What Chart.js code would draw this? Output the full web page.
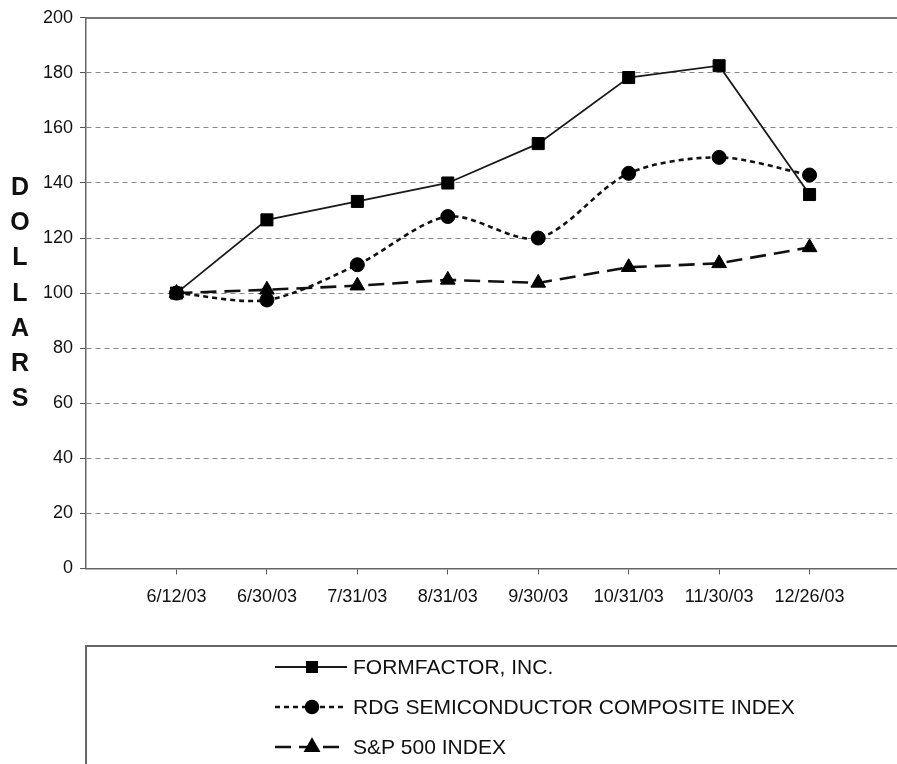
<!DOCTYPE html>
<html>
<head>
<meta charset="utf-8">
<script src="https://cdn.jsdelivr.net/npm/chart.js@4/dist/chart.umd.min.js"></script>
<style>
  html, body { margin: 0; padding: 0; overflow: hidden; background: #fff; }
  #wrap { position: absolute; left: 0; top: 0; width: 912px; height: 764px; }
  #ytitle { position: absolute; left: 8px; top: 169px; width: 24px; text-align: center;
            font: bold 25px "Liberation Sans", Arial, sans-serif; line-height: 35.2px; color: #111; }
</style>
</head>
<body>
<div id="wrap">
  <canvas id="growth-chart" width="912" height="764"></canvas>
  <div id="ytitle">D<br>O<br>L<br>L<br>A<br>R<br>S</div>
</div>
<script>
var dates = ['6/12/03', '6/30/03', '7/31/03', '8/31/03', '9/30/03', '10/31/03', '11/30/03', '12/26/03'];
var formfactor = [100, 126.6, 133.3, 140.0, 154.3, 178.3, 182.6, 135.8];
var rdg = [100, 97.5, 110.3, 127.8, 120.0, 143.5, 149.3, 142.9];
var sp500 = [100, 101.2, 102.7, 104.8, 103.7, 109.4, 110.8, 116.6];
var seriesNames = ['FORMFACTOR, INC.', 'RDG SEMICONDUCTOR COMPOSITE INDEX', 'S&P 500 INDEX'];
var yTicks = [0, 20, 40, 60, 80, 100, 120, 140, 160, 180, 200];

var font = '"Liberation Sans", Arial, sans-serif';
var ink = '#111';

function points(values) {
    return values.map(function(v, i) { return { x: i + 1, y: v }; });
}

/* Legend box under the chart, drawn from the datasets */
var boxLegend = {
    id: 'boxLegend',
    afterDraw: function(chart) {
        var ctx = chart.ctx;
        var left = chart.chartArea.left;
        var top = 646;
        ctx.save();
        ctx.strokeStyle = '#666';
        ctx.lineWidth = 2;
        ctx.beginPath();
        ctx.moveTo(left, chart.height + 5);
        ctx.lineTo(left, top);
        ctx.lineTo(chart.width + 5, top);
        ctx.stroke();

        var rows = [667, 707, 747];
        chart.data.datasets.forEach(function(ds, i) {
            var y = rows[i];
            ctx.strokeStyle = ds.borderColor;
            ctx.lineWidth = ds.borderWidth;
            ctx.setLineDash(ds.borderDash || []);
            ctx.beginPath();
            ctx.moveTo(275, y);
            ctx.lineTo(347, y);
            ctx.stroke();
            ctx.setLineDash([]);
            ctx.fillStyle = ds.pointBackgroundColor;
            ctx.strokeStyle = ds.pointBorderColor;
            Chart.helpers.drawPoint(ctx, {
                pointStyle: ds.pointStyle,
                radius: ds.pointRadius * 0.85,
                rotation: 0,
                borderWidth: 1
            }, 312, y);
            ctx.fillStyle = ink;
            ctx.font = '21px ' + font;
            ctx.textBaseline = 'middle';
            ctx.textAlign = 'left';
            ctx.fillText(ds.label, 353, y + 1);
        });
        ctx.restore();
    }
};

var ctx = document.getElementById('growth-chart').getContext('2d');
var chart = new Chart(ctx, {
    type: 'line',
    data: {
        datasets: [{
            label: seriesNames[0],
            data: points(formfactor),
            borderColor: '#1a1a1a',
            borderWidth: 1.8,
            pointStyle: 'rect',
            pointRadius: 8.5,
            pointBackgroundColor: '#000',
            pointBorderColor: '#000',
            pointBorderWidth: 1,
            tension: 0
        }, {
            label: seriesNames[1],
            data: points(rdg),
            borderColor: '#111',
            borderWidth: 2.6,
            borderDash: [5, 4],
            pointStyle: 'circle',
            pointRadius: 7,
            pointBackgroundColor: '#000',
            pointBorderColor: '#000',
            pointBorderWidth: 1,
            tension: 0.3
        }, {
            label: seriesNames[2],
            data: points(sp500),
            borderColor: '#111',
            borderWidth: 2.6,
            borderDash: [16, 8],
            pointStyle: 'triangle',
            pointRadius: 8.5,
            pointBackgroundColor: '#000',
            pointBorderColor: '#000',
            pointBorderWidth: 1,
            tension: 0
        }]
    },
    options: {
        responsive: false,
        animation: false,
        devicePixelRatio: 1,
        layout: { padding: { left: 36, top: 17, right: 0, bottom: 144 } },
        plugins: {
            legend: { display: false },
            tooltip: { enabled: false }
        },
        scales: {
            x: {
                type: 'linear',
                min: 0,
                max: 9,
                afterBuildTicks: function(axis) {
                    axis.ticks = [0, 1, 2, 3, 4, 5, 6, 7, 8, 9].map(function(v) { return { value: v }; });
                },
                ticks: {
                    autoSkip: false,
                    maxRotation: 0,
                    padding: 12,
                    color: ink,
                    font: { family: font, size: 18 },
                    callback: function(v) { return dates[v - 1] || ''; }
                },
                grid: {
                    drawOnChartArea: false,
                    tickLength: 6,
                    tickBorderDash: [],
                    tickColor: function(c) {
                        return (c.tick && c.tick.value >= 1 && c.tick.value <= 8) ? '#555' : 'rgba(0,0,0,0)';
                    }
                },
                border: { color: '#666', width: 1.5 }
            },
            xTop: {
                type: 'linear',
                position: 'top',
                min: 0,
                max: 9,
                ticks: { display: false },
                grid: { display: false, drawTicks: false },
                border: { color: '#777', width: 2 }
            },
            y: {
                min: 0,
                max: 200,
                afterBuildTicks: function(axis) {
                    axis.ticks = yTicks.map(function(v) { return { value: v }; });
                },
                ticks: {
                    padding: 7,
                    color: ink,
                    font: { family: font, size: 18 }
                },
                grid: {
                    color: function(c) {
                        return (c.tick && c.tick.value === 0) ? 'rgba(0,0,0,0)' : '#888';
                    },
                    lineWidth: 1,
                    tickLength: 6,
                    tickBorderDash: [],
                    tickColor: '#555'
                },
                border: { color: '#666', width: 1.5, dash: [5, 4] }
            }
        }
    },
    plugins: [boxLegend]
});
</script>
</body>
</html>
